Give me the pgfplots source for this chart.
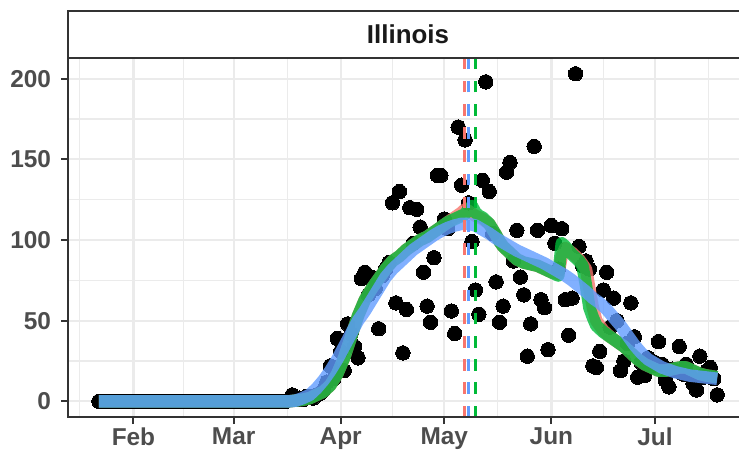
\documentclass[border=0pt]{standalone}
\usepackage{fontspec}
\setmainfont{Liberation Sans}
\usepackage{pgfplots}
\pgfplotsset{compat=1.18}
\definecolor{ggred}{HTML}{F8766D}
\definecolor{gggreen}{HTML}{00BA38}
\definecolor{ggblue}{HTML}{619CFF}
\definecolor{gg20}{HTML}{333333}
\definecolor{gg30}{HTML}{4D4D4D}
\definecolor{gg92}{HTML}{EBEBEB}
\begin{document}
\begin{tikzpicture}[x=1bp,y=1bp]
\useasboundingbox (0,0) rectangle (739,455);
\clip (0,0) rectangle (739,455);
\begin{axis}[
  name=ax,
  at={(68bp,37.8bp)}, anchor=south west,
  scale only axis, width=680.1bp, height=358.9bp,
  xmin=12.05, xmax=208.95, ymin=-9.8, ymax=212.6,
  axis line style={draw=none},
  tick pos=left, tick align=outside,
  major tick length=7bp, minor tick length=0bp,
  every tick/.style={gg20, line width=2bp},
  xtick={31,60,91,121,152,182},
  xticklabels={Feb,Mar,Apr,May,Jun,Jul},
  minor xtick={15.5,45.5,75.5,106,136.5,167,197.5},
  ytick={0,50,100,150,200},
  minor ytick={25,75,125,175},
  grid=both,
  major grid style={gg92, line width=2.2bp},
  minor grid style={gg92, line width=1.1bp},
  /pgf/number format/assume math mode=true,
  tick label style={font=\fontsize{24.5}{24.5}\selectfont\bfseries, text=gg30},
  yticklabel style={xshift=-6.5bp},
  clip=true,
  clip marker paths=true,
]
\addplot[only marks, mark=*, mark size=7.2bp, mark options={fill=black, draw=black, line width=0pt}] coordinates {
(21,0)(22,0)(23,0)(24,0)(25,0)(26,0)(27,0)(28,0)(29,0)(30,0)(31,0)(32,0)(33,0)(34,0)(35,0)(36,0)(37,0)(38,0)(39,0)(40,0)
(41,0)(42,0)(43,0)(44,0)(45,0)(46,0)(47,0)(48,0)(49,0)(50,0)(51,0)(52,0)(53,0)(54,0)(55,0)(56,0)(57,0)(58,0)(59,0)(60,0)
(61,0)(62,0)(63,0)(64,0)(65,0)(66,0)(67,0)(68,0)(69,0)(70,0)(71,0)(72,0)(73,0)(74,0)(75,0)
(76,1)(77,4)(78,1)(79,2)(80,1)(81,3)(82,3)(83,2)(84,4)(85,5)(86,7)(87,12)(88,22)(89,14)(90,39)
(91,31)(92,19)(93,48)(94,42)(95,34)(96,27)(97,76)(98,80)(99,66)(100,77)(101,70)(102,45)(103,78)(104,82)(105,86)
(106,123)(107,61)(108,130)(109,30)(110,57)(111,120)(112,98)(113,119)(114,108)(115,80)(116,59)(117,49)(118,89)(119,140)(120,140)
(121,113)(122,107)(123,56)(124,42)(125,170)(126,134)(127,162)(128,123)(129,99)(130,69)(131,54)(132,137)(133,198)(134,130)(135,104)
(136,74)(137,49)(138,59)(139,142)(140,148)(141,87)(142,106)(143,77)(144,66)(145,28)(146,48)(147,158)(148,106)(149,63)(150,58)
(151,32)(152,109)(153,98)(154,82)(155,107)(156,63)(157,41)(158,64)(159,203)(160,96)(161,84)(162,87)(163,82)(164,22)(165,21)
(166,31)(167,69)(168,80)(169,46)(170,64)(171,50)(172,19)(173,25)(174,36)(175,61)(176,40)(177,15)(178,24)(179,16)(180,27)
(181,22)(182,24)(183,37)(184,23)(185,13)(186,9)(187,20)(188,19)(189,34)(190,17)(191,23)(192,16)(193,11)(194,7)(195,28)
(196,15)(197,19)(198,21)(199,14)(200,4)
};
\addplot[ggred, opacity=0.8, line width=12.5bp, line join=round] coordinates {
(21,0)(76,0)(78,0.5)(80,1)(82,2)(84,4)(86,6)(88,10)(90,17)(92,27)(94,40)(96,53)(98,63)(100,70)(102,76)(104,82)(106,87)(108,90)
(110,94)(112,97)(114,100)(116,102)(118,105)(120,108)(122,111)(124,114)(126,117)(127,119)(128,118)(130,115)(131,114)(132,113)
(134,110)(136,103)(137,99)(138,96)(140,92)(142,88)(144,86)(146,85)(148,84)(150,82)(152,80)(154,79)(155,90)(156,95)(158,92)
(160,88)(162,82)(163,70)(164,58)(165,50)(167,44)(169,40)(171,37)(173,34)(175,30)(177,26)(179,23)(181,21)(183,19)(185,19)
(187,20)(189,21)(191,21)(193,19)(195,17)(197,16)(200,15)
};
\addplot[gggreen, opacity=0.8, line width=12.5bp, line join=round] coordinates {
(21,0)(76,0)(78,0.5)(80,1)(82,2)(84,4)(86,6)(88,10)(90,17)(92,27)(94,40)(96,53)(98,63)(100,70)(102,76)(104,82)(106,87)(108,90)
(110,94)(112,97)(114,100)(116,102)(118,105)(120,108)(122,111)(124,113)(126,115)(127,116)(128,119)(129,121)(130,117)(131,115)
(132,114)(134,110)(136,103)(137,99)(138,96)(140,92)(142,88)(144,86)(146,85)(148,84)(150,82)(152,80)(153,79)(154,78)(155,98)
(156,96)(158,91)(160,87)(161,84)(162,72)(163,58)(164,52)(165,47)(167,43)(169,40)(171,37)(173,34)(175,30)(177,26)(179,23)
(181,21)(183,19)(185,19)(187,20)(189,21)(191,21)(193,19)(195,17)(197,16)(200,15)
};
\addplot[ggblue, opacity=0.8, line width=12.5bp, line join=round] coordinates {
(21,0)(76,0)(78,0.5)(80,2)(82,4)(84,8)(86,13)(88,19)(90,26)(92,34)(94,42)(96,50)(98,56)(100,63)(102,70)(104,77)(106,82)(108,86)
(110,90)(112,94)(114,97)(116,100)(118,103)(120,105.5)(122,107.5)(124,109)(126,110)(128,110)(130,109)(132,106.5)(134,104)
(136,101)(138,98.5)(140,96)(142,93.5)(144,91.5)(146,89.5)(148,87.5)(150,85.5)(152,83)(154,80.5)(156,78)(158,75)(160,71.5)
(162,68)(164,64)(166,61)(168,57)(170,52)(172,47)(174,41)(176,35)(178,30)(180,26)(182,23.5)(184,21)(186,19.5)(188,18)
(190,17)(192,16)(194,15.5)(196,15)(198,14.5)(200,14)
};
\addplot[ggred, line width=2.6bp, dash pattern=on 11.6bp off 11.6bp] coordinates {(126.8,-9.8)(126.8,212.6)};
\addplot[ggblue, line width=2.6bp, dash pattern=on 11.6bp off 11.6bp] coordinates {(128,-9.8)(128,212.6)};
\addplot[gggreen, line width=2.6bp, dash pattern=on 11.6bp off 11.6bp] coordinates {(130,-9.8)(130,212.6)};
\end{axis}
\draw[gg20, line width=2.2bp] (ax.south west) rectangle (ax.north east);
\draw[gg20, line width=2.2bp, fill=white] (ax.north west) rectangle ([yshift=47.6bp]ax.north east);
\node[text=black!90] at (408,420.3) {\fontsize{26}{26}\selectfont\bfseries Illinois};
\end{tikzpicture}
\end{document}
